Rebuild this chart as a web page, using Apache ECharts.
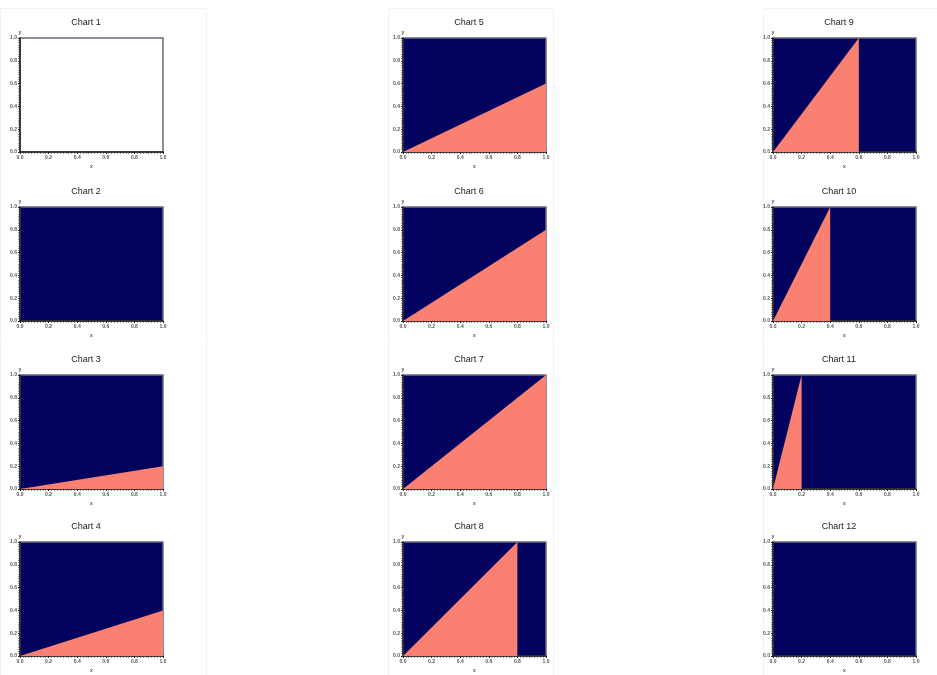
<!DOCTYPE html>
<html>
<head>
<meta charset="utf-8">
<script src="https://cdn.jsdelivr.net/npm/echarts@6/dist/echarts.min.js"></script>
<style>
html, body { margin: 0; padding: 0; background: #fff; }
#main { width: 937px; height: 675px; }
</style>
</head>
<body>
<div id="main"></div>
<script>
// chart titles, column by column
var titles = ['Chart 1', 'Chart 2', 'Chart 3', 'Chart 4', 'Chart 5', 'Chart 6',
              'Chart 7', 'Chart 8', 'Chart 9', 'Chart 10', 'Chart 11', 'Chart 12'];
// apex of the salmon triangle (null = nothing drawn)
var peakX = [null, 1, 1, 1, 1, 1, 1, 0.8, 0.6, 0.4, 0.2, 0];
var peakY = [null, 0, 0.2, 0.4, 0.6, 0.8, 1, 1, 1, 1, 1, 1];
// whether the plot background is navy
var navyBg = [false, true, true, true, true, true, true, true, true, true, true, true];
var tickLabels = ['0.0', '0.2', '0.4', '0.6', '0.8', '1.0'];

var lefts = [20, 403, 773];
var tops = [38, 207, 375, 542];
var plotW = 143, plotH = 114;
var navy = '#03035f';
var salmon = '#fa8072';

var chart = echarts.init(document.getElementById('main'));
var grids = [], xAxes = [], yAxes = [], series = [];
var graphics = [
    { type: 'rect', shape: { x: 0.5, y: 8.5, width: 206, height: 670 }, style: { fill: 'none', stroke: '#f2f2f2' } },
    { type: 'rect', shape: { x: 388.5, y: 8.5, width: 165, height: 670 }, style: { fill: 'none', stroke: '#f2f2f2' } },
    { type: 'rect', shape: { x: 763.5, y: 8.5, width: 180, height: 670 }, style: { fill: 'none', stroke: '#f2f2f2' } }
];

titles.forEach(function (t, i) {
    var col = Math.floor(i / 4), row = i % 4;
    grids.push({
        left: lefts[col], top: tops[row], width: plotW, height: plotH,
        show: true,
        backgroundColor: navyBg[i] ? navy : '#fff',
        borderColor: '#6a6a7a', borderWidth: 1.5
    });
    // titles sit a little left of the plot centre
    graphics.push({
        type: 'text',
        x: lefts[col] + 66, y: tops[row] - 15,
        style: {
            text: t, textAlign: 'center', textVerticalAlign: 'middle',
            font: '9px "Liberation Sans"', fill: '#222'
        }
    });
    var axisCommon = {
        gridIndex: i, type: 'value', min: 0, max: 1, interval: 0.2,
        splitLine: { show: false },
        axisLine: { show: true, onZero: false, lineStyle: { color: '#222', width: 1.5 } },
        axisTick: { show: true, length: 2, inside: false, lineStyle: { color: '#222' } },
        minorTick: { show: true, splitNumber: 10, length: 1.5, lineStyle: { color: '#333' } },
        axisLabel: {
            fontSize: 5, fontWeight: 'bold', color: '#555', fontFamily: 'Liberation Sans', margin: 3,
            formatter: function (v) { return tickLabels[Math.round(v * 5)]; }
        },
        nameTextStyle: { fontSize: 5, fontWeight: 'bold', color: '#555' }
    };
    xAxes.push(Object.assign({}, axisCommon, { name: 'x', nameLocation: 'middle', nameGap: 12 }));
    yAxes.push(Object.assign({}, axisCommon, { name: 'y', nameLocation: 'end', nameGap: 1 }));
    if (peakX[i] !== null) {
        series.push({
            type: 'line',
            xAxisIndex: i, yAxisIndex: i,
            showSymbol: false,
            silent: true,
            lineStyle: { width: 0 },
            areaStyle: { color: salmon, opacity: 1 },
            data: [[0, 0], [peakX[i], peakY[i]], [peakX[i], 0]]
        });
    }
});

var option = {
    backgroundColor: '#fff',
    animation: false,
    graphic: graphics,
    grid: grids,
    xAxis: xAxes,
    yAxis: yAxes,
    series: series
};
chart.setOption(option);
</script>
</body>
</html>
